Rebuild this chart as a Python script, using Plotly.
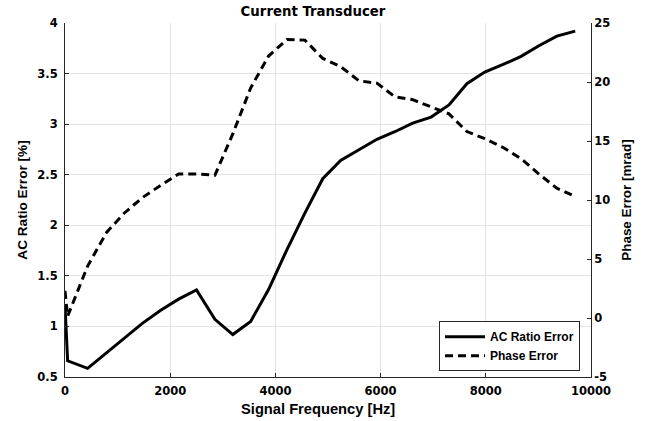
import plotly.graph_objects as go

freq_hz = [0, 50, 430, 790, 1130, 1470, 1820, 2160, 2500, 2850, 3190, 3530, 3870, 4220,
           4560, 4900, 5240, 5590, 5930, 6270, 6610, 6960, 7300, 7640, 7980, 8330, 8670,
           9010, 9350, 9700]
ac_ratio_error = [1.21, 0.66, 0.585, 0.74, 0.89, 1.03, 1.16, 1.27, 1.36, 1.07, 0.92, 1.05,
                  1.365, 1.76, 2.12, 2.46, 2.64, 2.75, 2.85, 2.925, 3.01, 3.07, 3.19, 3.40,
                  3.515, 3.59, 3.67, 3.775, 3.87, 3.92]
phase_error = [2.3, 0.15, 4.4, 7.25, 8.9, 10.2, 11.25, 12.2, 12.2, 12.1, 15.6, 19.5, 22.2,
               23.6, 23.55, 22.0, 21.3, 20.1, 19.9, 18.75, 18.5, 17.9, 17.3, 15.8, 15.2,
               14.45, 13.5, 12.2, 11.0, 10.3]

left_ticks = [0.5, 1, 1.5, 2, 2.5, 3, 3.5, 4]
right_ticks = [-5, 0, 5, 10, 15, 20, 25]
x_ticks = [0, 2000, 4000, 6000, 8000, 10000]

FONT = "Liberation Sans, Arial, sans-serif"
TICKFONT_FAMILY = "DejaVu Sans, Liberation Sans, sans-serif"
W, H = 651, 421
ML, MR, MT, MB = 65, 60, 23, 44
PW, PH = W - ML - MR, H - MT - MB

fig = go.Figure()
fig.add_trace(go.Scatter(x=freq_hz, y=ac_ratio_error, mode="lines", name="AC Ratio Error",
                         line=dict(color="black", width=3), yaxis="y"))
fig.add_trace(go.Scatter(x=freq_hz, y=phase_error, mode="lines", name="Phase Error",
                         line=dict(color="black", width=3, dash="8px,5px"), yaxis="y2"))

tickfont = dict(family=TICKFONT_FAMILY, size=11.5, color="black", weight="bold")

fig.update_layout(
    width=W, height=H,
    margin=dict(l=ML, r=MR, t=MT, b=MB, pad=0),
    paper_bgcolor="white", plot_bgcolor="white",
    title=dict(text="<b>Current Transducer</b>", x=313 / W, xref="container",
               xanchor="center", y=1 - 11.5 / H, yref="container", yanchor="middle",
               font=dict(family=TICKFONT_FAMILY, size=13.3, color="black")),
    xaxis=dict(range=[0, 10000], tickvals=x_ticks, ticktext=[str(v) for v in x_ticks],
               showgrid=True, gridcolor="#e3e3e3", gridwidth=1, zeroline=False,
               showline=True, linecolor="#262626", linewidth=1, ticks="inside", ticklen=4,
               tickcolor="#262626", tickfont=tickfont, mirror=False,
               ticklabelstandoff=3),
    yaxis=dict(range=[0.5, 4], tickvals=left_ticks, ticktext=[f"{v:g}" for v in left_ticks],
               showgrid=True, gridcolor="#e3e3e3", gridwidth=1, zeroline=False,
               showline=True, linecolor="#262626", linewidth=1, ticks="inside", ticklen=4,
               tickcolor="#262626", tickfont=tickfont, ticklabelstandoff=4,
               title=dict(text="<b>AC Ratio Error [%]</b>", standoff=6,
                          font=dict(family=FONT, size=13.6, color="black"))),
    yaxis2=dict(range=[-5, 25], tickvals=right_ticks, ticktext=[str(v) for v in right_ticks],
                overlaying="y", side="right", showgrid=False, zeroline=False,
                showline=True, linecolor="#262626", linewidth=1, ticks="inside", ticklen=4,
                tickcolor="#262626", tickfont=tickfont,
                title=dict(text="<b>Phase Error [mrad]</b>", standoff=12,
                           font=dict(family=FONT, size=13.4, color="black"))),
    legend=dict(x=(580 - ML) / PW, y=(377.7 - 372) / PH,
                xanchor="right", yanchor="bottom", bgcolor="white",
                bordercolor="#262626", borderwidth=1, itemwidth=40,
                font=dict(family=FONT, size=12, color="black", weight="bold"),
                tracegroupgap=0),
    showlegend=True,
    annotations=[dict(text="<b>Signal Frequency [Hz]</b>",
                      x=(318 - ML) / PW, y=(H - MB - 409) / PH,
                      xref="paper", yref="paper", showarrow=False, xanchor="center",
                      yanchor="middle", font=dict(family=FONT, size=14.7, color="black"))],
)

fig.write_html("out.html")
